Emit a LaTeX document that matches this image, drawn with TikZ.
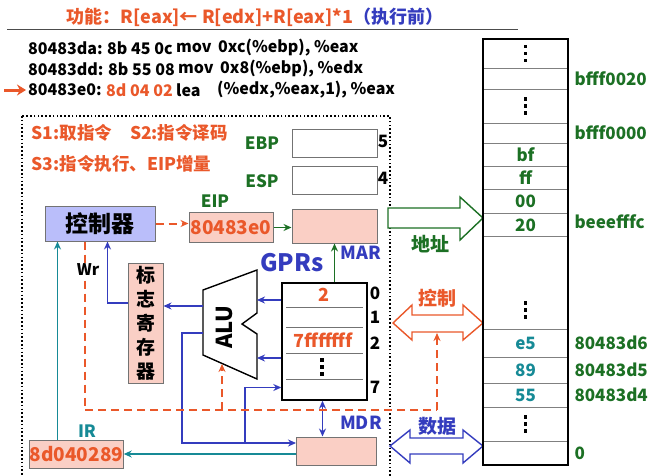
\documentclass[tikz,border=0pt]{standalone}
\usepackage{fontspec}
\setmainfont{Noto Sans CJK SC}
\usetikzlibrary{arrows.meta}

\definecolor{hot}{RGB}{234,88,42}
\definecolor{ink}{RGB}{52,60,190}
\definecolor{leaf}{RGB}{28,112,36}
\definecolor{sea}{RGB}{22,138,150}
\definecolor{blush}{RGB}{250,207,197}
\definecolor{lilac}{RGB}{186,190,250}

\newcommand\fs[1]{\fontsize{#1pt}{#1pt}\selectfont\bfseries}

\begin{document}
\begin{tikzpicture}[x=1pt,y=-1pt,>={Stealth[length=8pt,width=7pt]},
  box/.style={draw=black!55,line width=1pt,inner sep=0pt},
  regw/.style={box,minimum width=85pt,minimum height=28pt},
  code/.style={font=\fs{16},inner sep=0pt,anchor=west},
  bus/.style={line width=1.4pt},
  ordash/.style={hot,line width=2pt,dash pattern=on 8pt off 5pt}]
  \useasboundingbox (0,0) rectangle (658,475);
  \fill[white] (0,0) rectangle (658,475);

  % title and code
  \node[font=\fs{18},text=hot] (title) at (255,17) {功能：R[eax]← R[edx]+R[eax]*1\textcolor{ink}{（执行前）}};
  \draw[black!70,line width=0.8pt] (7,29) -- (518,29);
  \node[code] (a1) at (28,48) {80483da:};
  \node[code] (b1) at (107,48) {8b 45 0c};
  \node[code] (m1) at (176,48) {mov};
  \node[code] (o1) at (218,48) {0xc(\%ebp), \%eax};
  \node[code] (a2) at (28,69) {80483dd:};
  \node[code] (b2) at (108,69) {8b 55 08};
  \node[code] (m2) at (178,69) {mov};
  \node[code] (o2) at (220,69) {0x8(\%ebp), \%edx};
  \node[code] (a3) at (28,90) {80483e0:};
  \node[code,text=hot] (b3) at (106,90) {8d 04 02};
  \node[code] (m3) at (176,90) {lea};
  \node[code] (o3) at (217,90) {(\%edx,\%eax,1), \%eax};
  \coordinate (ptr) at (4,90);
  \draw[->,hot,line width=3pt,>={Stealth[length=9pt,width=11pt]}] (ptr) -- ([xshift=-2pt]a3.west);

  % cpu
  \draw[line width=1.6pt,dash pattern=on 1.6pt off 2.2pt] (22,116) rectangle (390,490);
  \node[font=\fs{17.5},text=hot,anchor=west] (s12) at (28,133) {S1:取指令\hspace{18pt}S2:指令译码};
  \node[font=\fs{17.5},text=hot,anchor=west] (s3) at (28,164) {S3:指令执行、EIP增量};

  \node[regw] (ebp) at (334.5,143.5) {};
  \node[font=\fs{17},text=leaf] at (262,143) {EBP};
  \node[font=\fs{17}] at (383,141) {5};
  \node[regw] (esp) at (334.5,180) {};
  \node[font=\fs{17},text=leaf] at (262,181) {ESP};
  \node[font=\fs{17}] at (383,178) {4};

  \node[box,fill=lilac,minimum width=110pt,minimum height=35pt,font=\fs{23}] (ctrl) at (100,223.5) {控制器};
  \node[box,fill=blush,minimum width=84pt,minimum height=30pt,font=\fs{19},text=hot] (eip) at (231,227.5) {80483e0};
  \node[font=\fs{17},text=leaf] at (215,201) {EIP};
  \node[box,fill=blush,minimum width=85pt,minimum height=34pt] (mar) at (334.5,226) {};
  \node[font=\fs{18},text=ink] at (361,253) {MAR};
  \node[font=\fs{24},text=ink] at (292,263) {GPRs};

  \node[box,draw=black,line width=1.4pt,minimum width=85pt,minimum height=117pt] (gpr) at (324.5,341.5) {};
  \foreach \y in {307,327,353,379} \draw[black!55] (286,\y) -- (363,\y);
  \node[font=\fs{18},text=hot] at (324,295) {2};
  \node[font=\fs{18},text=hot] at (323,340) {7fffffff};
  \foreach \n/\y in {0/293,1/317,2/343,7/387} \node[font=\fs{17}] at (375,\y) {\n};

  \draw[line width=1.4pt] (203,290) -- (257,270) -- (257,313) -- (242,324) -- (257,334) -- (257,379) -- (203,355) -- cycle;
  \node[rotate=90,font=\fs{22}] (alu) at (224,327) {ALU};
  \coordinate (aluR1) at (257,300);
  \coordinate (aluR2) at (257,358);
  \coordinate (aluL1) at (203,306);
  \coordinate (aluL2) at (203,333);
  \coordinate (aluB) at (222,364);

  \node[box,fill=blush,minimum width=35pt,minimum height=120pt,align=center,
    font=\fontsize{19pt}{24pt}\selectfont\bfseries] (flag) at (145.5,323) {标\\志\\寄\\存\\器};

  \node[box,fill=blush,minimum width=91pt,minimum height=28pt,font=\fs{19},text=hot] (ir) at (76.5,454) {8d040289};
  \node[font=\fs{17},text=sea] at (87,431) {IR};
  \node[box,fill=blush,minimum width=80pt,minimum height=28pt] (mdr) at (336.5,451) {};
  \node[font=\fs{18},text=ink] at (361,423) {MDR};

  \coordinate (bus) at (182,443);
  \coordinate (tap) at (245,443);
  \coordinate (ctlin) at (437,333);
  \coordinate (ctlfoot) at (437,410);

  % blue paths
  \draw[->,ink,bus] (gpr.west |- aluR1) -- (aluR1);
  \draw[->,ink,bus] (gpr.west |- aluR2) -- (aluR2);
  \draw[->,ink,bus] (aluL1) -- (aluL1 -| flag.east);
  \draw[->,ink,bus] ([yshift=20pt]flag.west) -| ([xshift=63pt]ctrl.south west);
  \draw[->,ink,bus] (aluL2) -| (bus) -- (bus -| mdr.west);
  \draw[->,ink,bus] (tap) |- ([yshift=-46pt]gpr.west);
  \draw[<->,ink,bus] ([xshift=-14pt]mdr.north) -- ([xshift=-14pt]mdr.north |- gpr.south);

  % teal and green
  \draw[->,sea,bus] ([xshift=13pt]ctrl.south west |- ir.north) -- ([xshift=13pt]ctrl.south west);
  \draw[->,sea,bus] (mdr.west |- ir.east) -- (ir.east);
  \draw[->,leaf,bus] (eip.east) -- (eip.east -| mar.west);
  \draw[->,leaf,bus] (gpr.north -| mar.south) -- (mar.south);

  % control signals
  \draw[->,ordash] (ctrl.east) -- (ctrl.east -| eip.west);
  \draw[ordash] ([xshift=40pt]ctrl.south west) |- (ctlfoot);
  \draw[->,ordash] (ctlfoot) -- (ctlin);
  \draw[->,ordash] (aluB |- ctlfoot) -- (aluB);
  \node[font=\fs{16},fill=white,inner sep=1pt] (wr) at (88,270) {Wr};

  % system bus
  \draw[leaf,line width=1.4pt,fill=white] (388,208) -- (460,208) -- (460,197) -- (483,218)
    -- (460,240) -- (460,228) -- (388,228) -- cycle;
  \node[font=\fs{19},text=leaf] (addr) at (430,244) {地址};
  \draw[hot,line width=1.4pt,fill=white] (393,323) -- (412,305) -- (412,315) -- (463,315) -- (463,305)
    -- (483,323) -- (463,340) -- (463,332) -- (412,332) -- (412,340) -- cycle;
  \node[font=\fs{19},text=hot] (ctl) at (437,298) {控制};
  \draw[ink,line width=1.4pt,fill=white] (390,446) -- (410,430) -- (410,438) -- (463,438) -- (463,430)
    -- (483,446) -- (463,463) -- (463,454) -- (410,454) -- (410,463) -- cycle;
  \node[font=\fs{19},text=ink] (dat) at (437,426) {数据};

  % memory
  \foreach \y in {68,89,123,143,166,189,213,236,329,357,383,407,441}
    \draw[black!50] (483,\y) -- (568,\y);
  \node[draw,line width=1.6pt,minimum width=85pt,minimum height=426pt,inner sep=0pt] (mem) at (525.5,252) {};
  \foreach \cx/\cy in {525.5/53.5,525.5/106,525.5/310,525.5/424,322/367}
    \foreach \d in {-7,0,7}
      \fill (\cx-1.8,\cy+\d-1.8) rectangle ++(3.6,3.6);
  \foreach \v/\y in {bf/155,ff/178,00/201,20/225}
    \node[font=\fs{17},text=leaf] at (525.5,\y) {\v};
  \foreach \v/\y in {e5/343,89/370,55/395}
    \node[font=\fs{17},text=sea] at (525.5,\y) {\v};
  \foreach \v/\y in {bfff0020/79,bfff0000/133,beeefffc/222,80483d6/343,80483d5/370,80483d4/395,0/453}
    \node[font=\fs{17},text=leaf,anchor=west] at (571,\y) {\v};
\end{tikzpicture}
\end{document}
